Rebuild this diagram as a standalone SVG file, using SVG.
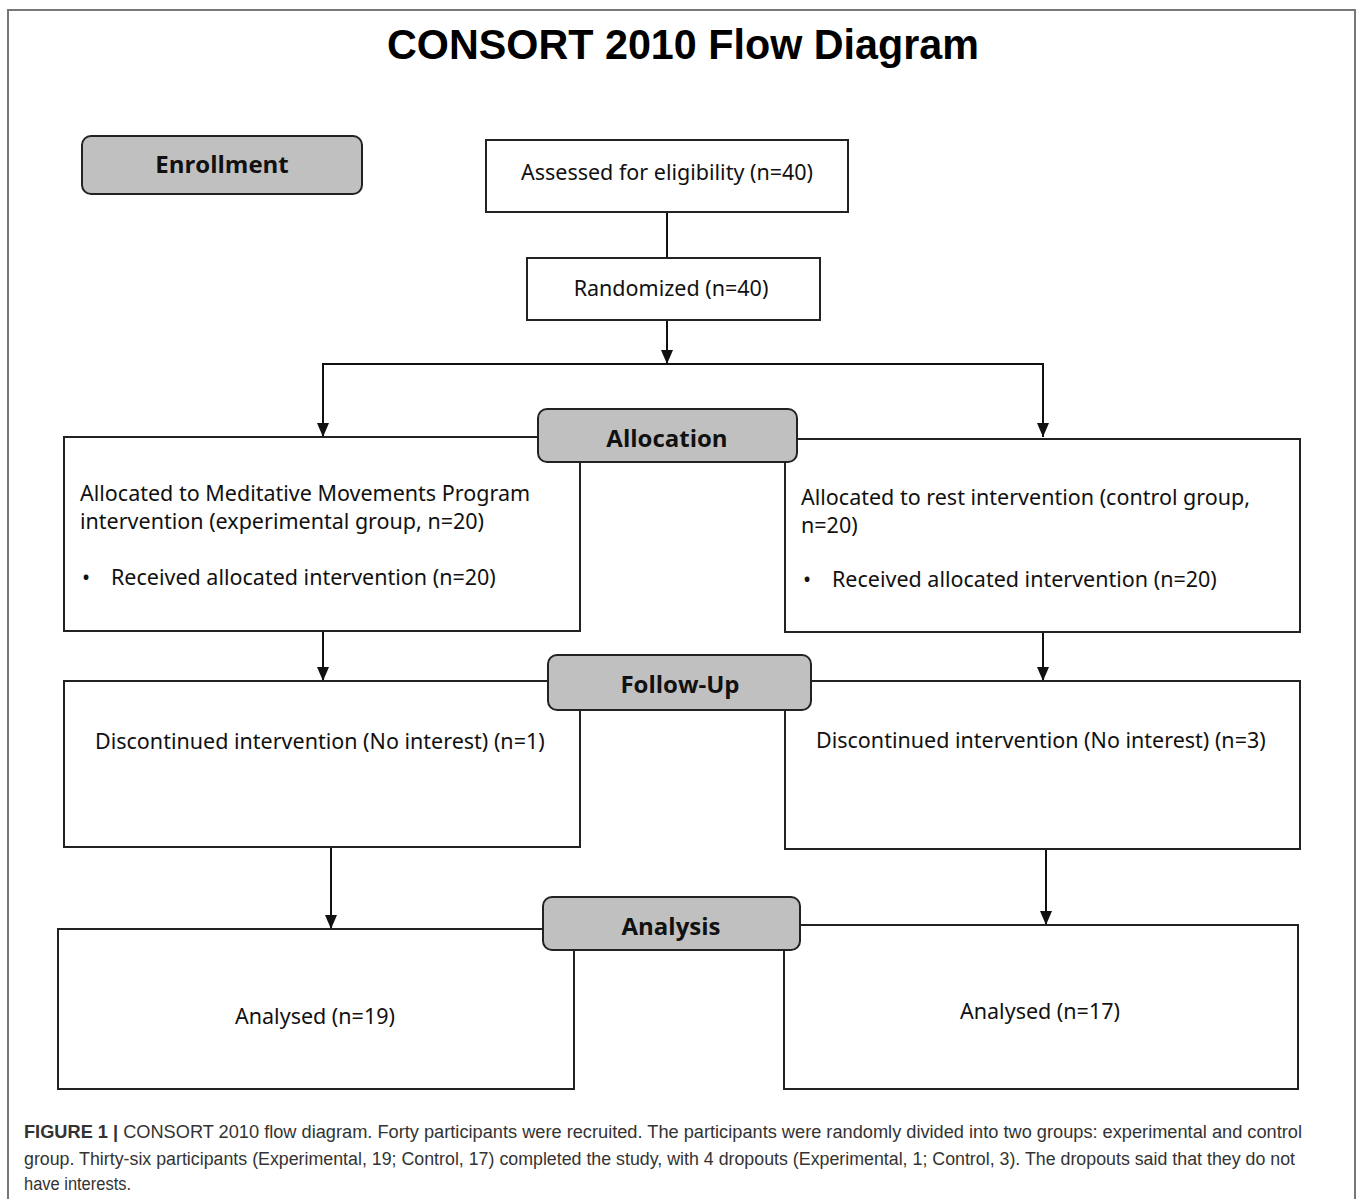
<svg xmlns="http://www.w3.org/2000/svg" width="1358" height="1199" viewBox="0 0 1358 1199">
<defs>
<marker id="ah" viewBox="0 0 14 12" refX="14" refY="6" markerWidth="14" markerHeight="12" markerUnits="userSpaceOnUse" orient="auto-start-reverse">
<path d="M0,0 L14,6 L0,12 Z" fill="#111"/>
</marker>
<style>
.box{fill:#fff;stroke:#222;stroke-width:2}
.stage{fill:#c0c0c0;stroke:#222;stroke-width:2}
.t{font-family:"Noto Sans","Liberation Sans",sans-serif;font-size:21.5px;fill:#111}
.s{font-family:"Open Sans","Liberation Sans",sans-serif;font-size:24px;font-weight:bold;fill:#111;text-anchor:middle}
.c{font-family:"Liberation Sans",Arial,sans-serif;font-size:18px;fill:#333}
.ln{fill:none;stroke:#111;stroke-width:2}
</style>
</defs>
<rect width="1358" height="1199" fill="#fff"/>
<path d="M8,1199 V10 H1355 V1199" fill="none" stroke="#777" stroke-width="2"/>
<text x="683" y="59" font-family="Liberation Sans,Arial,sans-serif" font-weight="bold" font-size="43" text-anchor="middle" textLength="592" lengthAdjust="spacingAndGlyphs" fill="#000">CONSORT 2010 Flow Diagram</text>

<g id="connectors">
<path class="ln" d="M667,212 V258"/>
<path class="ln" d="M667,320 V364" marker-end="url(#ah)"/>
<path class="ln" d="M323,437 V364 H1043 V437" marker-end="url(#ah)" marker-start="url(#ah)"/>
<path class="ln" d="M323,631 V681" marker-end="url(#ah)"/>
<path class="ln" d="M1043,632 V681" marker-end="url(#ah)"/>
<path class="ln" d="M331,847 V929" marker-end="url(#ah)"/>
<path class="ln" d="M1046,849 V925" marker-end="url(#ah)"/>
</g>

<g id="enrollment"><rect class="stage" x="82" y="136" width="280" height="58" rx="9"/><text class="s" x="222" y="173">Enrollment</text></g>
<g id="assessed"><rect class="box" x="486" y="140" width="362" height="72"/><text class="t" x="667" y="180" text-anchor="middle">Assessed for eligibility (n=40)</text></g>
<g id="randomized"><rect class="box" x="527" y="258" width="293" height="62"/><text class="t" x="671" y="296" text-anchor="middle">Randomized (n=40)</text></g>

<g id="alloc-left"><rect class="box" x="64" y="437" width="516" height="194"/>
<text class="t" x="80" y="501">Allocated to Meditative Movements Program</text>
<text class="t" x="80" y="529">intervention (experimental group, n=20)</text>
<text class="t" x="82" y="585">•</text><text class="t" x="111" y="585">Received allocated intervention (n=20)</text></g>
<g id="alloc-right"><rect class="box" x="785" y="439" width="515" height="193"/>
<text class="t" x="801" y="505">Allocated to rest intervention (control group,</text>
<text class="t" x="801" y="533">n=20)</text>
<text class="t" x="803" y="587">•</text><text class="t" x="832" y="587">Received allocated intervention (n=20)</text></g>
<g id="allocation"><rect class="stage" x="538" y="409" width="259" height="53" rx="9"/><text class="s" x="667" y="447">Allocation</text></g>

<g id="follow-left"><rect class="box" x="64" y="681" width="516" height="166"/>
<text class="t" x="95" y="749">Discontinued intervention (No interest) (n=1)</text></g>
<g id="follow-right"><rect class="box" x="785" y="681" width="515" height="168"/>
<text class="t" x="816" y="748">Discontinued intervention (No interest) (n=3)</text></g>
<g id="followup"><rect class="stage" x="548" y="655" width="263" height="55" rx="9"/><text class="s" x="680" y="693">Follow-Up</text></g>

<g id="analysed-left"><rect class="box" x="58" y="929" width="516" height="160"/>
<text class="t" x="315" y="1024" text-anchor="middle">Analysed (n=19)</text></g>
<g id="analysed-right"><rect class="box" x="784" y="925" width="514" height="164"/>
<text class="t" x="1040" y="1019" text-anchor="middle">Analysed (n=17)</text></g>
<g id="analysis"><rect class="stage" x="543" y="897" width="257" height="53" rx="9"/><text class="s" x="671" y="935">Analysis</text></g>

<g id="caption">
<text class="c" x="24" y="1138" textLength="1278" lengthAdjust="spacingAndGlyphs"><tspan font-weight="bold">FIGURE 1 |</tspan> CONSORT 2010 flow diagram. Forty participants were recruited. The participants were randomly divided into two groups: experimental and control</text>
<text class="c" x="24" y="1165" textLength="1271" lengthAdjust="spacingAndGlyphs">group. Thirty-six participants (Experimental, 19; Control, 17) completed the study, with 4 dropouts (Experimental, 1; Control, 3). The dropouts said that they do not</text>
<text class="c" x="24" y="1190" textLength="107" lengthAdjust="spacingAndGlyphs">have interests.</text>
</g>
</svg>
